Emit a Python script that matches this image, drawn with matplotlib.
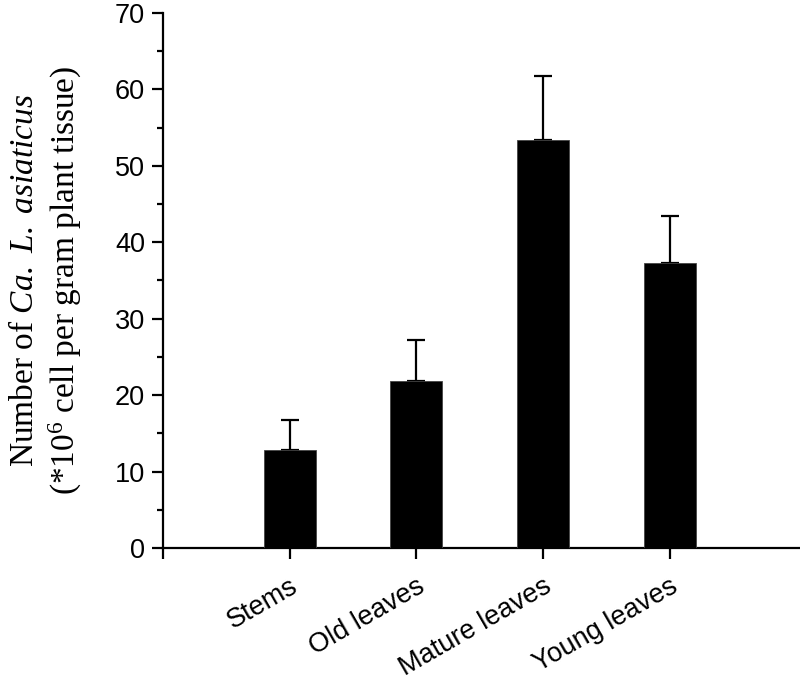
import matplotlib
matplotlib.use('Agg')
import matplotlib.pyplot as plt
from matplotlib.ticker import MultipleLocator

# Data
tissues = ['Stems', 'Old leaves', 'Mature leaves', 'Young leaves']
counts = [12.8, 21.85, 53.4, 37.3]
errors = [3.95, 5.35, 8.4, 6.1]

plt.rcParams['font.family'] = ['Liberation Sans', 'DejaVu Sans']
plt.rcParams['mathtext.fontset'] = 'custom'
plt.rcParams['mathtext.rm'] = 'Liberation Serif'
plt.rcParams['mathtext.it'] = 'Liberation Serif:italic'

fig = plt.figure(figsize=(8, 6.82), dpi=100)
ax = fig.add_axes([0.204, 0.1965, 0.796, 0.7845])

x = list(range(1, len(tissues) + 1))
# bars drawn above the error bars so the lower cap is hidden
ax.bar(x, counts, width=0.41, color='black', edgecolor='#444444', linewidth=0.6, zorder=3)
ax.errorbar(x, counts, yerr=[[0] * len(errors), errors], fmt='none', ecolor='black',
            elinewidth=1.6, capsize=6.8, capthick=1.6, zorder=2)

ax.set_xlim(0, 5.03)
ax.set_ylim(0, 70)
ax.yaxis.set_major_locator(MultipleLocator(10))
ax.yaxis.set_minor_locator(MultipleLocator(5))
ax.set_xticks([0] + x)
ax.set_xticklabels([''] + tissues, rotation=30, ha='right', rotation_mode='anchor', fontsize=19.5)

for s in ['top', 'right']:
    ax.spines[s].set_visible(False)
for s in ['left', 'bottom']:
    ax.spines[s].set_linewidth(1.6)

ax.tick_params(axis='both', which='major', length=8, width=1.6, direction='out', labelsize=19.5, pad=5)
ax.tick_params(axis='y', which='minor', length=4.3, width=1.6, direction='out')
ax.tick_params(axis='x', which='major', pad=10)

ax.set_ylabel('Number of $\\it{Ca.\\ L.\\ asiaticus}$\n(*10$^{6}$ cell per gram plant tissue)',
              family='Liberation Serif', fontsize=24, linespacing=1.25)
ax.yaxis.set_label_coords(-0.124, 0.5)

fig.savefig('out.png', dpi=100)
